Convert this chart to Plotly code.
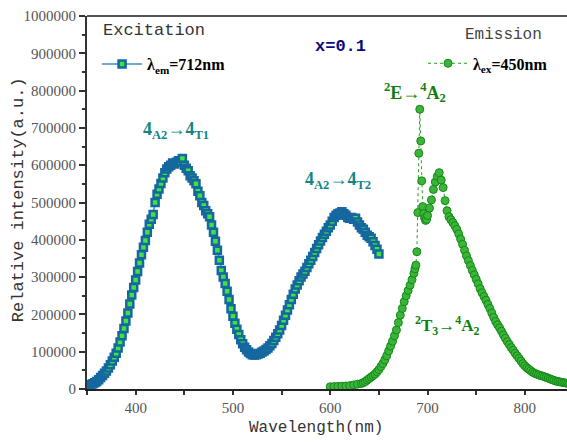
import plotly.graph_objects as go

# ---------------- data ----------------
ex_wl = list(range(350, 652, 2))
ex_int = [
    10000, 11000, 12000, 14000, 17000, 20000, 25000, 31000, 36000, 42000,
    48000, 56000, 65000, 75000, 85000, 96000, 110000, 126000, 143000, 162000,
    182000, 204000, 228000, 252000, 272000, 292000, 315000, 338000, 360000, 380000,
    398000, 420000, 442000, 455000, 468000, 500000, 522000, 536000, 551000, 566000,
    580000, 590000, 596000, 600000, 606000, 603000, 608000, 612000, 610000, 618000,
    600000, 592000, 585000, 572000, 566000, 558000, 550000, 530000, 518000, 500000,
    492000, 478000, 470000, 462000, 440000, 420000, 396000, 372000, 345000, 318000,
    300000, 283000, 262000, 240000, 215000, 195000, 176000, 160000, 146000, 132000,
    121000, 112000, 105000, 99000, 95000, 92000, 91000, 92000, 94000, 96000,
    99000, 102000, 106000, 110000, 116000, 122000, 130000, 139000, 148000, 158000,
    170000, 184000, 198000, 212000, 226000, 240000, 254000, 268000, 279000, 290000,
    300000, 308000, 316000, 326000, 336000, 345000, 355000, 366000, 377000, 387000,
    397000, 406000, 415000, 423000, 432000, 440000, 450000, 460000, 466000, 470000,
    472000, 475000, 470000, 466000, 460000, 458000, 460000, 455000, 458000, 448000,
    440000, 432000, 428000, 420000, 412000, 408000, 404000, 395000, 385000, 375000,
    362000,
]

em_wl = [
    600, 604, 608, 612, 616, 620, 624, 628, 632, 634, 636, 638, 640, 642, 644, 646,
    648, 650, 652, 654, 656, 658, 660, 662, 664, 666, 668, 670, 672, 674, 676, 678,
    680, 682, 684, 686, 687, 688, 689, 690, 691, 692, 693, 694, 695, 696, 697, 698,
    699, 700, 702, 704, 706, 708, 710, 712, 714, 716, 718, 720, 722, 724, 726, 728,
    730, 732, 734, 736, 738, 740, 742, 744, 746, 748, 750, 752, 754, 756, 758, 760,
    762, 764, 766, 768, 770, 772, 774, 776, 778, 780, 782, 784, 786, 788, 790, 792,
    794, 796, 798, 800, 802, 804, 806, 808, 810, 812, 814, 816, 818, 820, 822, 824,
    826, 828, 830, 832, 834, 836, 838, 840, 842, 844, 846,
]
em_int = [
    6000, 6500, 7000, 7500, 8000, 9000, 11000, 13000, 15000, 17000, 20000, 24000, 28000, 32000, 36000, 40000,
    46000, 52000, 60000, 68000, 78000, 89000, 102000, 115000, 128000, 143000, 158000, 178000, 198000, 216000, 234000, 250000,
    264000, 278000, 293000, 310000, 322000, 332000, 368000, 473000, 632000, 750000, 665000, 558000, 489000, 470000, 458000, 452000,
    455000, 465000, 485000, 507000, 535000, 555000, 570000, 580000, 560000, 540000, 505000, 478000, 462000, 454000, 446000, 438000,
    428000, 416000, 402000, 388000, 372000, 357000, 344000, 331000, 318000, 306000, 294000, 282000, 269000, 258000, 248000, 238000,
    227000, 216000, 204000, 192000, 181000, 172000, 164000, 155000, 145000, 136000, 127000, 119000, 111000, 104000, 96000, 89000,
    82000, 75000, 68000, 62000, 57000, 53000, 49000, 45000, 42000, 40000, 38000, 36000, 35000, 33000, 31000, 29000,
    27000, 25000, 23000, 21000, 20000, 19000, 18000, 17000, 16000, 15000, 14000,
]

ex_label = "λ<sub>em</sub>=712nm"
em_label = "λ<sub>ex</sub>=450nm"

# ---------------- figure ----------------
fig = go.Figure()
fig.add_trace(go.Scatter(
    x=ex_wl, y=ex_int, mode="lines+markers", name=ex_label, legend="legend",
    line=dict(color="#3d8ec9", width=1.5),
    marker=dict(symbol="square", size=7, color="#3fe23f",
                line=dict(color="#15689f", width=2.5)),
))
fig.add_trace(go.Scatter(
    x=em_wl, y=em_int, mode="lines+markers", name=em_label, legend="legend2",
    line=dict(color="#22a022", width=1, dash="dot"),
    marker=dict(symbol="circle", size=8, color="#3cb43c",
                line=dict(color="#138a13", width=1)),
))

serif = "Liberation Serif"
mono = "Liberation Mono"

fig.update_layout(
    width=567, height=442,
    margin=dict(l=87, r=0, t=16, b=53, autoexpand=False),
    paper_bgcolor="white", plot_bgcolor="white",
    showlegend=True,
    legend=dict(x=0.021, y=0.871, xanchor="left", yanchor="middle",
                itemwidth=40,
                bgcolor="rgba(0,0,0,0)", borderwidth=0,
                font=dict(family=serif, size=16, color="black", weight="bold")),
    legend2=dict(x=0.70, y=0.873, xanchor="left", yanchor="middle",
                 itemwidth=40,
                 bgcolor="rgba(0,0,0,0)", borderwidth=0,
                 font=dict(family=serif, size=16, color="black", weight="bold")),
    xaxis=dict(range=[350, 843.3], tickmode="linear", tick0=400, dtick=100,
               ticks="outside", ticklen=4, tickwidth=1.5, tickcolor="#333",
               showline=True, linecolor="#222", linewidth=2, mirror=False,
               showgrid=False, zeroline=False,
               tickfont=dict(family=serif, size=15, color="#555"),
               minor=dict(dtick=50, tick0=350, ticks="outside", ticklen=4,
                          tickwidth=1.5, tickcolor="#333", showgrid=False)),
    yaxis=dict(range=[0, 1000000], tickmode="linear", tick0=0, dtick=100000,
               ticks="outside", ticklen=6, tickwidth=1.5, tickcolor="#333",
               showline=True, linecolor="#333", linewidth=2, mirror=False,
               showgrid=False, zeroline=False, tickformat="d",
               tickfont=dict(family=serif, size=15, color="#555"),
               minor=dict(dtick=50000, ticks="outside", ticklen=3,
                          tickwidth=1.5, tickcolor="#333", showgrid=False)),
)

# top frame line
fig.add_shape(type="line", xref="paper", yref="paper", x0=0, x1=1, y0=1, y1=1,
              line=dict(color="#555", width=2))

ann = []
def A(text, x, y, size, color, family, bold=False, **kw):
    d = dict(text=text, x=x, y=y, xref="paper", yref="paper", showarrow=False,
             xanchor="center", yanchor="middle",
             font=dict(family=family, size=size, color=color,
                       weight="bold" if bold else "normal"))
    d.update(kw)
    ann.append(d)

A("Excitation", 0.140, 0.962, 17, "#333", mono)
A("Emission", 0.867, 0.949, 16, "#444", mono)
A("x=0.1", 0.529, 0.917, 17, "#0a0a80", mono, bold=True)
A("4<sub>A2</sub>→4<sub>T1</sub>", 0.185, 0.694, 18, "#108585", serif, bold=True)
A("4<sub>A2</sub>→4<sub>T2</sub>", 0.523, 0.558, 18, "#108585", serif, bold=True)
A("<sup>2</sup>E→<sup>4</sup>A<sub>2</sub>", 0.683, 0.796, 18, "#0f800f", serif, bold=True)
A("<sup>2</sup>T<sub>3</sub>→<sup>4</sup>A<sub>2</sub>", 0.750, 0.169, 17, "#0f800f", serif, bold=True)
A("Wavelength(nm)", 0.477, -0.105, 16, "#333", mono)
A("Relative intensity(a.u.)", -0.141, 0.507, 17, "#333", mono, textangle=-90)
fig.update_layout(annotations=ann)

fig.write_html("out.html")
